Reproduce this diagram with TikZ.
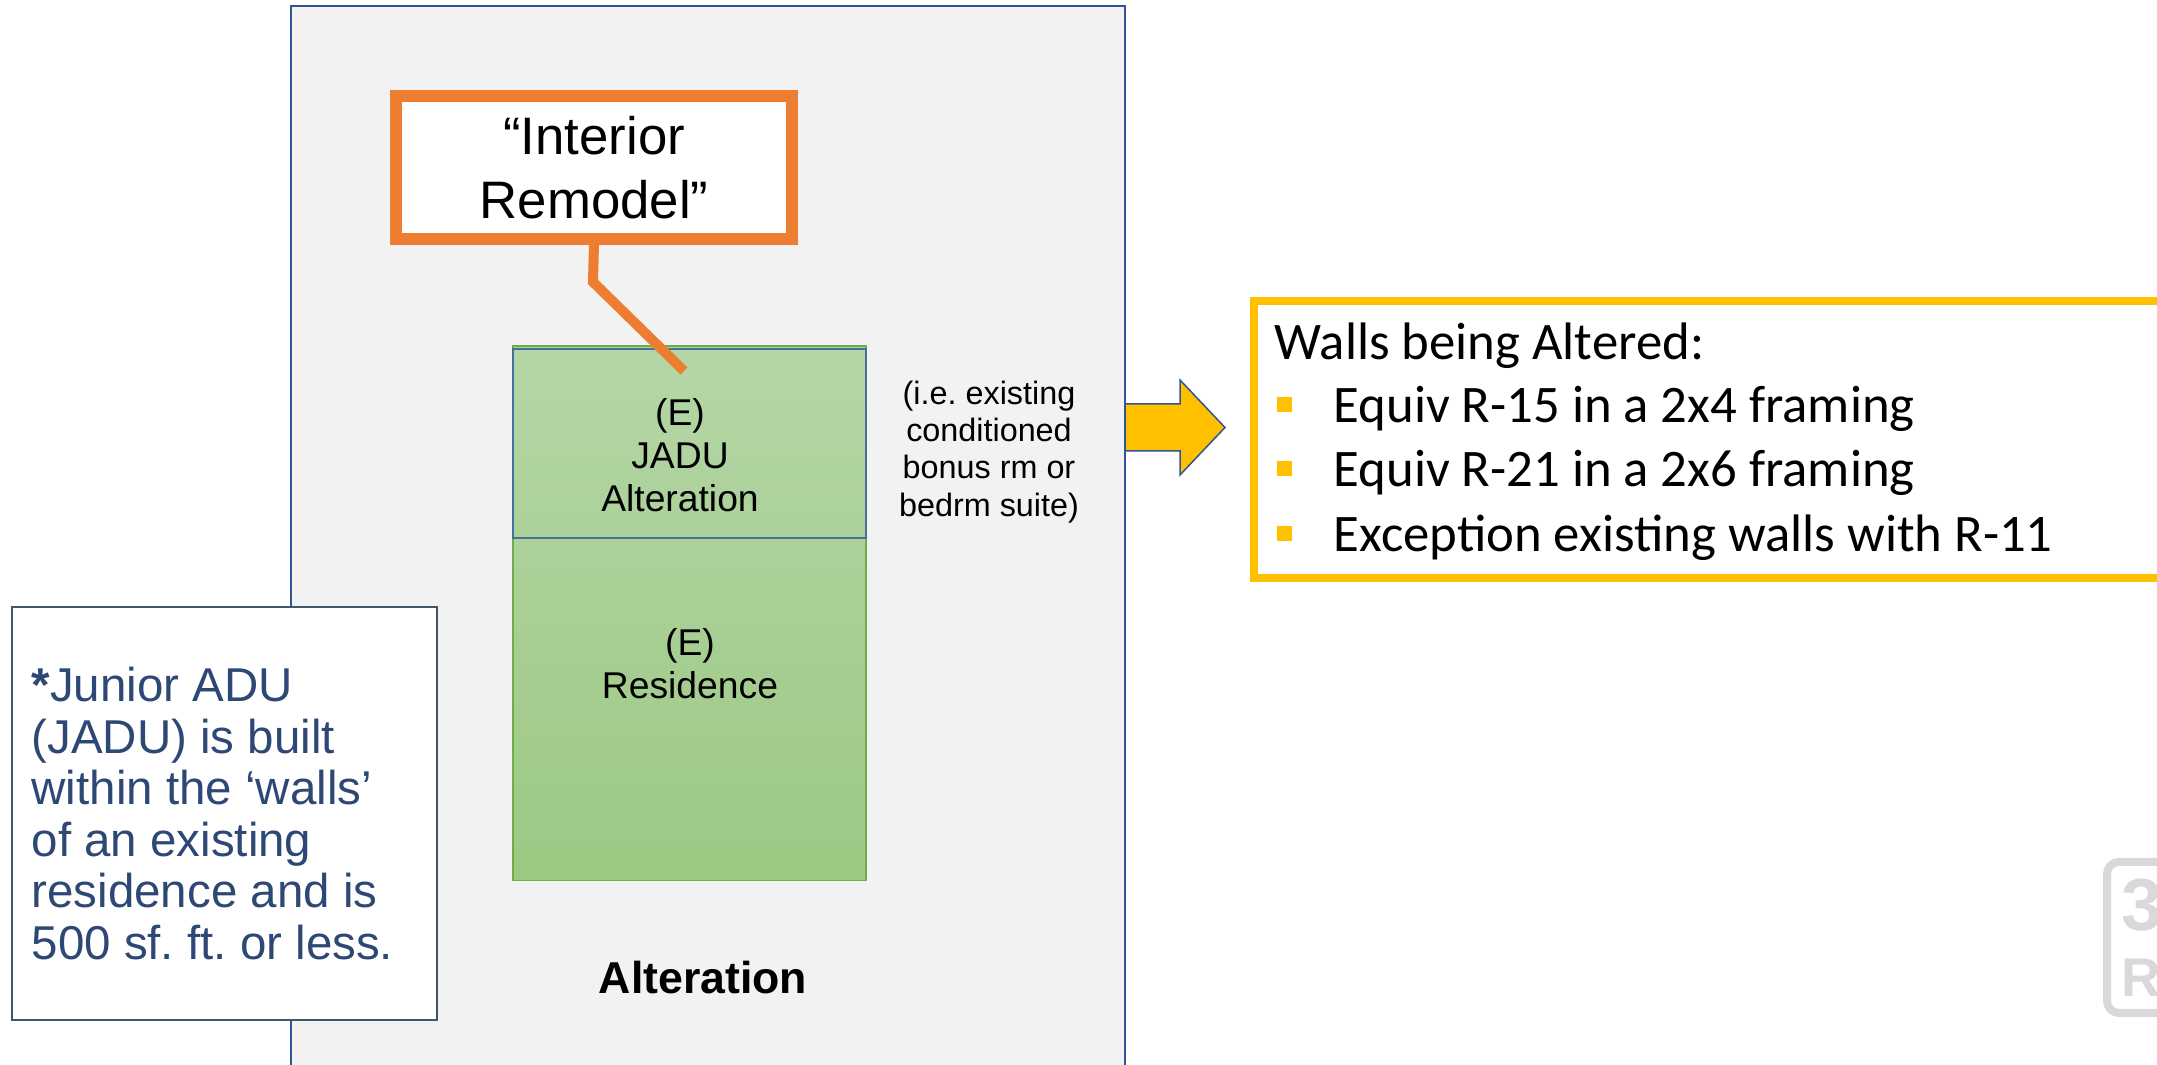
\documentclass[tikz,border=0pt]{standalone}
\usepackage{fontspec}
\setmainfont{Liberation Sans}
\newfontfamily\carlito{Carlito}
\frenchspacing

\definecolor{panelgray}{RGB}{242,242,242}
\definecolor{panelblue}{RGB}{47,85,151}
\definecolor{callorange}{RGB}{237,125,49}
\definecolor{greentop}{RGB}{181,214,166}
\definecolor{greenbot}{RGB}{156,200,131}
\definecolor{greenline}{RGB}{112,173,71}
\definecolor{jadublue}{RGB}{65,113,156}
\definecolor{gold}{RGB}{255,192,0}
\definecolor{notetext}{RGB}{46,72,118}
\definecolor{noteline}{RGB}{68,84,106}
\definecolor{logogray}{RGB}{217,217,217}

\begin{document}
\begin{tikzpicture}[x=0.01cm,y=-0.01cm,
  box/.style={inner sep=0pt, outer sep=0pt, anchor=north west},
  panel/.style={box, draw=panelblue, fill=panelgray, line width=0.02cm,
    minimum width=8.34cm, minimum height=11cm},
  greenbox/.style={box, draw=greenline, line width=0.015cm,
    top color=greentop, bottom color=greenbot,
    minimum width=3.53cm, minimum height=5.34cm},
  jadubox/.style={box, draw=jadublue, line width=0.025cm,
    minimum width=3.53cm, minimum height=1.89cm},
  remodelbox/.style={box, draw=callorange, fill=white, line width=0.12cm,
    minimum width=3.96cm, minimum height=1.43cm, align=center,
    font=\fontsize{15pt}{18pt}\selectfont},
  callout/.style={draw=callorange, line width=0.10cm, line join=miter},
  roomlabel/.style={inner sep=0pt, align=center,
    font=\fontsize{10.6pt}{12.3pt}\selectfont},
  asidelabel/.style={inner sep=0pt, align=center,
    font=\fontsize{9.2pt}{10.6pt}\selectfont},
  notebox/.style={box, draw=noteline, fill=white, line width=0.02cm,
    minimum width=4.25cm, minimum height=4.13cm},
  notelabel/.style={inner sep=0pt, anchor=base west, align=left, text=notetext,
    font=\fontsize{13.5pt}{14.7pt}\selectfont},
  yellowbox/.style={box, draw=gold, fill=white, line width=0.08cm,
    minimum width=10cm, minimum height=2.77cm},
  wallline/.style={inner sep=0pt, anchor=base west,
    font=\carlito\fontsize{15pt}{18pt}\selectfont},
  bulletsq/.style={fill=gold, inner sep=0pt, minimum size=0.15cm}
]
\useasboundingbox (0,0) rectangle (2157,1065);
\clip (0,0) rectangle (2157,1065);

% alteration panel
\node[panel] (panel) at (291,6) {};

% existing residence with the JADU portion on top
\node[greenbox] (residence) at (513,346) {};
\node[jadubox] (jadu) at (513,349) {};
\node[roomlabel] (jadutext) at (680,455) {(E)\\JADU\\Alteration};
\node[roomlabel] (restext) at (690,664) {(E)\\Residence};
\node[asidelabel] (aside) at (989,452) {(i.e. existing\\conditioned\\bonus rm or\\bedrm suite)};
\node[inner sep=0pt, anchor=base, font=\bfseries\fontsize{12.7pt}{15pt}\selectfont]
  (alttitle) at (703,994) {Alteration};

% callout
\node[remodelbox] (remodel) at (396,96) {“Interior\\Remodel”};
\coordinate (kink) at (593,282);
\coordinate (calltip) at (684,371);
\draw[callout] (remodel.south) -- (kink) -- (calltip);

% JADU definition note
\node[notebox] (note) at (12,607) {};
\node[notelabel] (n1) at (31,702) {\textbf{*}Junior ADU};
\node[notelabel] (n2) at (31,754) {(JADU) is built};
\node[notelabel] (n3) at (31,805) {within the ‘walls’};
\node[notelabel] (n4) at (31,857) {of an existing};
\node[notelabel] (n5) at (31,908) {residence and is};
\node[notelabel] (n6) at (31,960) {500 sf. ft. or less.};

% block arrow towards the requirements
\filldraw[fill=gold, draw=panelblue, line width=0.015cm, line join=miter]
  (1125,404) -- (1180,404) -- (1180,380) -- (1225,427.5) -- (1180,475)
  -- (1180,451) -- (1125,451) -- cycle;

% requirements box
\node[yellowbox] (walls) at (1254,301) {};
\node[wallline] (wtitle) at (1274,360) {Walls being Altered:};
\node[bulletsq] (b1) at (1284.5,405) {};
\node[bulletsq] (b2) at (1284.5,469) {};
\node[bulletsq] (b3) at (1284.5,534) {};
\node[wallline] (w1) at (1333,423) {Equiv R-15 in a 2x4 framing};
\node[wallline] (w2) at (1333,487) {Equiv R-21 in a 2x6 framing};
\node[wallline] (w3) at (1333,552) {Exception existing walls with R-11};

% corner logo
\draw[logogray, line width=0.08cm, rounded corners=0.12cm] (2107,862) rectangle (2220,1013);
\node[inner sep=0pt, anchor=base west, text=logogray,
  font=\bfseries\fontsize{21pt}{21pt}\selectfont] (logo3) at (2121,931) {3};
\node[inner sep=0pt, anchor=base west, text=logogray,
  font=\bfseries\fontsize{15.5pt}{15.5pt}\selectfont] (logoR) at (2121,997) {R};
\end{tikzpicture}
\end{document}
